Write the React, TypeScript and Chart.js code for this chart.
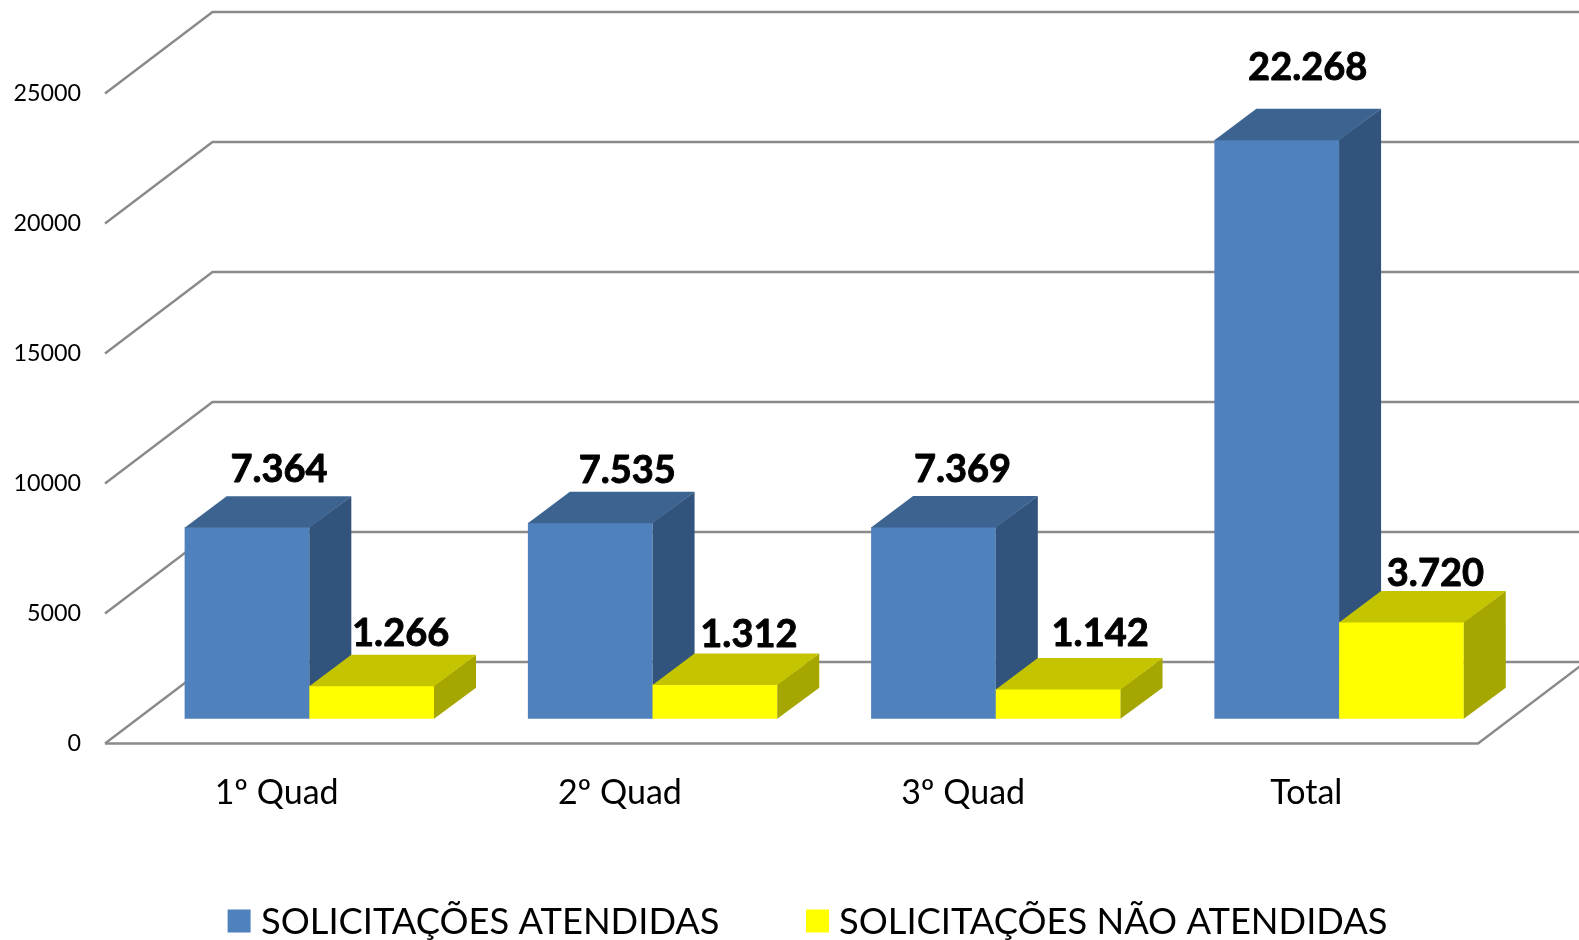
import React, { useEffect, useRef } from "react";
import { Chart, registerables } from "chart.js";

Chart.register(...registerables);

const categories = ["1º Quad", "2º Quad", "3º Quad", "Total"];
const atendidas = [7364, 7535, 7369, 22268];
const naoAtendidas = [1266, 1312, 1142, 3720];
const seriesNames = ["SOLICITAÇÕES ATENDIDAS", "SOLICITAÇÕES NÃO ATENDIDAS"];

// styling
const W = 1579;
const H = 940;
const AREA = { left: 105, right: 1478, top: 93.5, bottom: 743.5 };
const WALL = { dx: 107.5, dy: -81.5 };
const BAR_SHIFT = { dx: 32.7, dy: -24.8 };
const BAR_DEPTH = { dx: 42, dy: -31 };
const FACE = [
  { front: "#4F81BD", top: "#3D6491", side: "#32547C" },
  { front: "#FFFF00", top: "#C4C400", side: "#A6A600" },
];
const GRID = "#8A8A8A";
const FONT = "Lato, Carlito, sans-serif";
const LABEL_OFFSETS = [
  [[32, -26], [37, -21], [29, -26], [31, -41]],
  [[29, -21], [34, -19], [42, -24], [34, -17]],
];
const LEGEND = [
  { box: 227.6, text: 261 },
  { box: 806, text: 839 },
];

const fmt = (v: number) => String(v).replace(/\B(?=(\d{3})+$)/g, ".");

const poly = (ctx: CanvasRenderingContext2D, pts: number[][], color: string) => {
  ctx.fillStyle = color;
  ctx.beginPath();
  pts.forEach(([x, y], i) => (i ? ctx.lineTo(x, y) : ctx.moveTo(x, y)));
  ctx.closePath();
  ctx.fill();
};

const drawFaces = (chart: any, index: number) => {
  const { ctx } = chart;
  const c = FACE[index];
  const { dx, dy } = BAR_DEPTH;
  chart.getDatasetMeta(index).data.forEach((el: any) => {
    const { x, y, base, width } = el.getProps(["x", "y", "base", "width"], true);
    const l = x - width / 2;
    const r = x + width / 2;
    poly(ctx, [[r, y], [r + dx, y + dy], [r + dx, base + dy], [r, base]], c.side);
    poly(ctx, [[l, y + 0.5], [r, y + 0.5], [r + dx, y + dy], [l + dx, y + dy]], c.top);
  });
};

const plugin3d = {
  id: "plugin3d",
  beforeDatasetsDraw(chart: any) {
    const { ctx, scales, chartArea } = chart;
    const { left, right } = chartArea;
    ctx.save();
    ctx.strokeStyle = GRID;
    ctx.lineWidth = 2.4;
    scales.y.ticks.forEach((t: any) => {
      const y = scales.y.getPixelForValue(t.value);
      ctx.beginPath();
      ctx.moveTo(left, y);
      ctx.lineTo(left + WALL.dx, y + WALL.dy);
      ctx.lineTo(W, y + WALL.dy);
      ctx.stroke();
    });
    const y0 = scales.y.getPixelForValue(0);
    ctx.beginPath();
    ctx.moveTo(left, y0);
    ctx.lineTo(right, y0);
    ctx.lineTo(right + WALL.dx, y0 + WALL.dy);
    ctx.stroke();
    ctx.restore();
  },
  // Chart.js paints datasets last-to-first; the second series must sit on top of
  // the first one's side face, so it is painted right after the first.
  beforeDatasetDraw(chart: any, args: any) {
    if (args.index === 1) return false;
    chart.ctx.save();
    chart.ctx.translate(BAR_SHIFT.dx, BAR_SHIFT.dy);
    return true;
  },
  afterDatasetDraw(chart: any) {
    drawFaces(chart, 0);
    chart.getDatasetMeta(1).controller.draw();
    drawFaces(chart, 1);
    chart.ctx.restore();
  },
  afterDatasetsDraw(chart: any) {
    const { ctx } = chart;
    ctx.save();
    ctx.fillStyle = "#000";
    ctx.strokeStyle = "#000";
    ctx.lineWidth = 0.9;
    ctx.lineJoin = "round";
    ctx.textAlign = "center";
    ctx.textBaseline = "middle";
    ctx.font = `bold 38px ${FONT}`;
    chart.data.datasets.forEach((ds: any, i: number) => {
      chart.getDatasetMeta(i).data.forEach((el: any, j: number) => {
        const [ox, oy] = LABEL_OFFSETS[i][j];
        const tx = el.x + BAR_SHIFT.dx + ox;
        const ty = el.y + BAR_SHIFT.dy + BAR_DEPTH.dy + oy;
        ctx.fillText(fmt(ds.data[j]), tx, ty);
        ctx.strokeText(fmt(ds.data[j]), tx, ty);
      });
    });
    // legend
    ctx.textAlign = "left";
    ctx.font = `36.3px ${FONT}`;
    chart.data.datasets.forEach((ds: any, i: number) => {
      ctx.fillStyle = ds.backgroundColor;
      ctx.fillRect(LEGEND[i].box, 909.5, 23, 23);
      ctx.fillStyle = "#000";
      ctx.fillText(ds.label, LEGEND[i].text, 922);
    });
    ctx.restore();
  },
};

export default function App() {
  const ref = useRef<HTMLCanvasElement>(null);
  useEffect(() => {
    const chart = new Chart(ref.current as HTMLCanvasElement, {
      type: "bar",
      data: {
        labels: categories,
        datasets: [
          { label: seriesNames[0], data: atendidas, backgroundColor: FACE[0].front, clip: false },
          { label: seriesNames[1], data: naoAtendidas, backgroundColor: FACE[1].front, clip: false },
        ],
      } as any,
      options: {
        responsive: false,
        animation: false,
        devicePixelRatio: 1,
        layout: { padding: { left: 0, top: AREA.top, right: W - AREA.right, bottom: 0 } },
        datasets: { bar: { categoryPercentage: 0.7266, barPercentage: 1 } },
        plugins: { legend: { display: false }, tooltip: { enabled: false } },
        scales: {
          x: {
            grid: { display: false, drawTicks: false },
            border: { display: false },
            ticks: { color: "#000", font: { family: FONT, size: 34 }, padding: 29, maxRotation: 0 },
            afterFit: (s: any) => {
              s.height = H - AREA.bottom;
            },
          },
          y: {
            min: 0,
            max: 25000,
            grid: { display: false, drawTicks: false },
            border: { display: false },
            ticks: {
              stepSize: 5000,
              color: "#000",
              font: { family: FONT, size: 23.3 },
              padding: 24,
              callback: (v: any) => String(v),
            },
            afterFit: (s: any) => {
              s.width = AREA.left;
            },
          },
        },
      } as any,
      plugins: [plugin3d],
    });
    return () => chart.destroy();
  }, []);
  return (
    <div style={{ position: "absolute", left: 0, top: 0, width: W, height: H, background: "#fff" }}>
      <canvas ref={ref} width={W} height={H} style={{ display: "block" }} />
    </div>
  );
}
